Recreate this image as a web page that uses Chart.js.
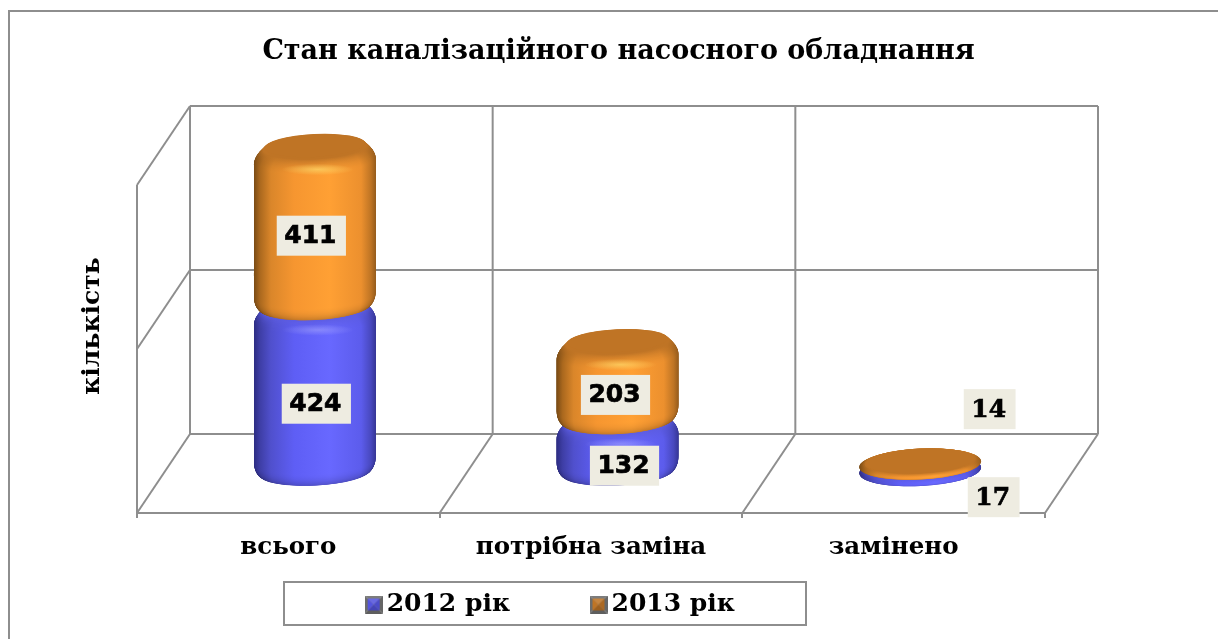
<!DOCTYPE html>
<html><head><meta charset="utf-8">
<style>html,body{margin:0;padding:0;background:#fff}canvas{display:block}</style>
<script src="https://cdn.jsdelivr.net/npm/chart.js@4/dist/chart.umd.js"></script>
</head><body><canvas id="c" width="1218" height="639"></canvas>
<script>
const titleText = 'Стан каналізаційного насосного обладнання';
const yAxisTitle = 'кількість';
const categories = ['всього', 'потрібна заміна', 'замінено'];
const seriesNames = ['2012 рік', '2013 рік'];
const values2012 = [424, 132, 17];
const values2013 = [411, 203, 14];
const axisMax = 840, axisStep = 420;

// hand placement of the value tags relative to the middle of each segment
const tagShift2012 = [[1.5, 13], [7, 18], [73.5, 27]];
const tagShift2013 = [[-3.5, 8], [-2, 12.6], [69.5, -55]];
const tagFonts = ['bold 25px "DejaVu Sans", sans-serif', 'bold 25px "DejaVu Sans", sans-serif', 'bold 25px "DejaVu Serif", serif'];

const GRID = '#8e8e8e', TAG = '#EEECE1', SERIF = '"DejaVu Serif", serif';
const DEPTH_X = 53, DEPTH_Y = -79, RY = 14, TILT = -0.05;
const paletteBlue = {
  stops: [[0,[44,44,130]],[.05,[62,62,165]],[.14,[80,80,205]],[.33,[94,94,245]],[.62,[104,104,255]],[.88,[92,92,236]],[.96,[72,72,190]],[1,[54,54,150]]],
  cap: [92,92,225], light: '190,190,255', glow: .4
};
const paletteOrange = {
  stops: [[0,[120,74,20]],[.05,[170,104,30]],[.14,[218,134,42]],[.33,[246,150,48]],[.62,[255,160,52]],[.88,[236,144,46]],[.96,[190,116,36]],[1,[150,92,28]]],
  cap: [191,116,37], light: '255,222,110', glow: .65
};
const mix = (a, b, t) => a.map((v, i) => Math.round(v + (b[i] - v) * t));
const css = c => `rgb(${c[0]},${c[1]},${c[2]})`;

function drawCylinder(ctx, cx, yTop, yBase, R, pal) {
  const h = yBase - yTop;
  const below = Math.min(14, h * .5), above = 2 * Math.min(1, h / 20), inset = Math.min(11, h * 1.3);
  const b = Math.min(14, h * .5);
  const level = (y, rx, shade, capMix) => {
    const g = ctx.createLinearGradient(cx - rx, 0, cx + rx, 0);
    pal.stops.forEach(s => {
      const base = mix(s[1], [0,0,0], shade);
      g.addColorStop(s[0], css(mix(base, pal.cap, capMix)));
    });
    ctx.fillStyle = g;
    ctx.beginPath();
    ctx.ellipse(cx, y, rx, rx * RY / R, TILT, 0, Math.PI * 2);
    ctx.fill();
  };
  for (let y = yBase; y >= yTop - above; y -= .5) {
    let rx = R, shade = 0, capMix = 0;
    if (y > yBase - b) {
      const v = (y - (yBase - b)) / b;
      rx = R - 9 * (1 - Math.sqrt(Math.max(0, 1 - v * v)));
      shade = .22 * v * v;
    }
    if (y < yTop + below) {
      const u = (yTop + below - y) / (below + above);
      rx = R - inset * (1 - Math.cos(u * Math.PI / 2));
      capMix = Math.min(1, u * u * 1.3);
    }
    level(y, rx, shade, capMix);
  }
  const capR = R - inset;
  ctx.fillStyle = css(pal.cap);
  ctx.beginPath();
  ctx.ellipse(cx, yTop - above, capR, capR * RY / R, TILT, 0, Math.PI * 2);
  ctx.fill();
  if (h > 30) {
    ctx.save();
    ctx.translate(cx + 3, yTop + 22);
    ctx.scale(1, .16);
    const rg = ctx.createRadialGradient(0, 0, 0, 0, 0, 36);
    rg.addColorStop(0, `rgba(${pal.light},${pal.glow})`);
    rg.addColorStop(1, `rgba(${pal.light},0)`);
    ctx.fillStyle = rg;
    ctx.beginPath(); ctx.arc(0, 0, 36, 0, Math.PI * 2); ctx.fill();
    ctx.restore();
  }
}

function swatch(rgb) {
  const cv = document.createElement('canvas'); cv.width = 18; cv.height = 18;
  const c = cv.getContext('2d');
  const tri = (pts, col) => { c.fillStyle = col; c.beginPath(); pts.forEach((p, i) => i ? c.lineTo(p[0], p[1]) : c.moveTo(p[0], p[1])); c.closePath(); c.fill(); };
  tri([[0,0],[18,0],[9,9]], '#7c7c7c'); tri([[0,18],[18,18],[9,9]], '#5e5e5e');
  tri([[0,0],[0,18],[9,9]], '#6c6c6c'); tri([[18,0],[18,18],[9,9]], '#666');
  tri([[3,3],[15,3],[9,9]], css(mix(rgb,[255,255,255],.12))); tri([[3,15],[15,15],[9,9]], css(mix(rgb,[0,0,0],.18)));
  tri([[3,3],[3,15],[9,9]], css(rgb)); tri([[15,3],[15,15],[9,9]], css(mix(rgb,[0,0,0],.1)));
  return cv;
}

const scene = {
  id: 'scene',
  afterLayout(chart) {
    const t = chart.titleBlock; t.left = 0; t.right = 1237;
    const l = chart.legend; l.left = 284; l.right = 824; l.top = 592 - 88; l.bottom = 625;
  },
  beforeDatasetsDraw(chart) {
    const ctx = chart.ctx, a = chart.chartArea, y = chart.scales.y;
    ctx.save();
    ctx.strokeStyle = GRID; ctx.lineWidth = 2;
    const line = (x1, y1, x2, y2) => { ctx.beginPath(); ctx.moveTo(x1, y1); ctx.lineTo(x2, y2); ctx.stroke(); };
    // frame of the whole picture
    ctx.beginPath(); ctx.moveTo(9, 639); ctx.lineTo(9, 11); ctx.lineTo(1218, 11); ctx.stroke();
    // value gridlines: left wall and back wall
    y.ticks.forEach((tk, i) => {
      const py = y.getPixelForTick(i);
      if (i > 0) line(a.left, py, a.left + DEPTH_X, py + DEPTH_Y);
      line(a.left + DEPTH_X, py + DEPTH_Y, a.right + DEPTH_X, py + DEPTH_Y);
    });
    line(a.left, a.top, a.left, a.bottom);
    // category boundaries: floor and back wall
    const step = (a.right - a.left) / categories.length;
    for (let i = 0; i <= categories.length; i++) {
      const fx = a.left + step * i;
      line(fx, a.bottom, fx + DEPTH_X, a.bottom + DEPTH_Y);
      line(fx + DEPTH_X, a.bottom + DEPTH_Y, fx + DEPTH_X, a.top + DEPTH_Y);
    }
    // value axis title
    ctx.translate(92, 326);
    ctx.rotate(-Math.PI / 2);
    ctx.font = 'bold 25px ' + SERIF;
    ctx.fillStyle = '#000';
    ctx.textAlign = 'center'; ctx.textBaseline = 'middle';
    ctx.fillText(yAxisTitle, 0, 0);
    ctx.restore();
  },
  beforeDatasetDraw() { return false; },
  afterDatasetsDraw(chart) {
    const ctx = chart.ctx;
    const palettes = [paletteBlue, paletteOrange], shifts = [tagShift2012, tagShift2013];
    ctx.save();
    [0, 1].forEach(d => chart.getDatasetMeta(d).data.forEach(el => {
      drawCylinder(ctx, el.x + DEPTH_X / 2, el.y + DEPTH_Y / 2, el.base + DEPTH_Y / 2, el.width / 2, palettes[d]);
    }));
    ctx.textAlign = 'center'; ctx.textBaseline = 'middle';
    [0, 1].forEach(d => chart.getDatasetMeta(d).data.forEach((el, i) => {
      const cx = el.x + DEPTH_X / 2 + shifts[d][i][0];
      const cy = (el.y + el.base) / 2 + DEPTH_Y / 2 + shifts[d][i][1];
      const txt = String(chart.data.datasets[d].data[i]);
      ctx.font = tagFonts[i];
      const w = txt.length * 17.4 + 17;
      ctx.fillStyle = TAG; ctx.fillRect(cx - w / 2, cy - 20, w, 40);
      ctx.fillStyle = '#000'; ctx.strokeStyle = '#000'; ctx.lineWidth = .7;
      ctx.fillText(txt, cx - 1, cy + 1); ctx.strokeText(txt, cx - 1, cy + 1);
    }));
    ctx.restore();
  },
  afterDraw(chart) {
    const ctx = chart.ctx;
    ctx.save(); ctx.strokeStyle = GRID; ctx.lineWidth = 2;
    ctx.strokeRect(284, 582, 522, 43);
    ctx.restore();
  }
};

new Chart(document.getElementById('c'), {
  type: 'bar',
  plugins: [scene],
  data: {
    labels: categories,
    datasets: [
      { label: seriesNames[0], data: values2012, backgroundColor: '#6060F0', stack: 's', categoryPercentage: 1, barPercentage: .403 },
      { label: seriesNames[1], data: values2013, backgroundColor: '#F79A34', stack: 's', categoryPercentage: 1, barPercentage: .403 }
    ]
  },
  options: {
    responsive: false, animation: false, events: [],
    layout: { padding: { left: 78, right: 173, top: 0, bottom: 0 } },
    scales: {
      x: {
        stacked: true,
        afterFit(s) { s.height = 125; },
        border: { display: true, color: GRID, width: 2 },
        grid: { display: true, drawOnChartArea: false, drawTicks: true, tickLength: 5, color: GRID, lineWidth: 2 },
        ticks: { color: '#000', padding: 15, autoSkip: false, maxRotation: 0, font: { family: SERIF, weight: 'bold', size: 24.5 } }
      },
      y: {
        stacked: true, min: 0, max: axisMax,
        afterFit(s) { s.width = 59; },
        border: { display: false }, grid: { display: false },
        ticks: { display: false, stepSize: axisStep }
      }
    },
    plugins: {
      tooltip: { enabled: false },
      title: {
        display: true, text: titleText, color: '#000',
        font: { family: SERIF, weight: 'bold', size: 27, lineHeight: 1.2 },
        padding: { top: 36, bottom: 116.6 }
      },
      legend: {
        display: true, position: 'bottom', maxHeight: 1,
        labels: {
          color: '#000', font: { family: SERIF, weight: 'bold', size: 25 }, padding: 88,
          usePointStyle: true, pointStyleWidth: 1, boxHeight: 18,
          generateLabels(chart) {
            return seriesNames.map((n, i) => ({
              text: n, datasetIndex: i, fontColor: '#000',
              pointStyle: swatch(i ? paletteOrange.cap : [84,84,222]),
              fillStyle: 'transparent', strokeStyle: 'transparent', lineWidth: 0
            }));
          }
        }
      }
    }
  }
});
</script></body></html>
